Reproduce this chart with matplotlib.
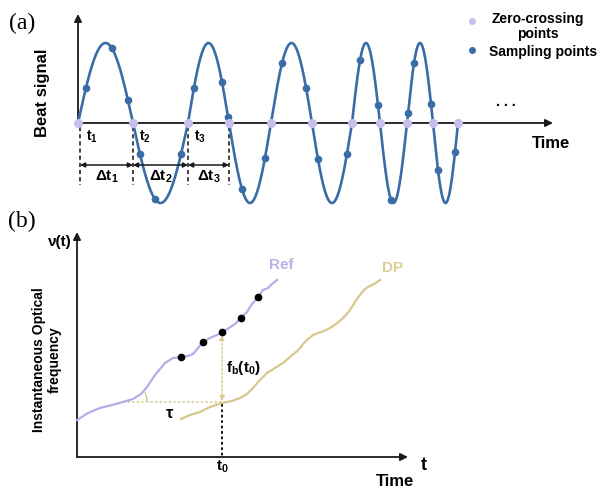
import numpy as np
import matplotlib.pyplot as plt
from matplotlib.patches import Arc

plt.rcParams['font.family'] = ['Liberation Sans', 'DejaVu Sans']
plt.rcParams['mathtext.fontset'] = 'custom'
plt.rcParams['mathtext.rm'] = 'Liberation Sans:bold'
plt.rcParams['mathtext.it'] = 'Liberation Sans:bold'
plt.rcParams['mathtext.bf'] = 'Liberation Sans:bold'

# panel (a): beat signal, zero crossings and sampling instants (time in px units)
zero_cross = [78, 133, 188, 229, 271, 312, 352, 380, 407, 433, 458]
sample_t = [86, 112, 128, 140, 155, 181, 194, 222, 228, 242, 265, 282,
            306, 318, 347, 360, 378, 391, 408, 414, 431, 438, 455]
interval_labels = [r'$t_1$', r'$t_2$', r'$t_3$']
delta_labels = [r'$\Delta t_1$', r'$\Delta t_2$', r'$\Delta t_3$']

# panel (b): instantaneous optical frequency of reference and DP
ref_x = [77, 88, 100, 112, 123, 133, 141, 147, 155, 165, 173, 181, 188, 193, 198,
         203, 210, 217, 222, 229, 235, 241, 247, 252, 258, 263, 268, 272, 277]
ref_y = [420, 413, 408, 405, 402, 399, 394, 387, 375, 363, 358, 357, 356, 354, 348,
         342, 338, 335, 332, 328, 324, 318, 312, 304, 297, 290, 288, 284, 280]
dp_x = [181, 190, 200, 210, 222, 232, 240, 247, 253, 260, 267, 275, 283, 290, 296,
        300, 304, 308, 313, 318, 324, 330, 336, 341, 346, 350, 355, 360, 364, 368, 374, 380]
dp_y = [419, 415, 412, 407, 403, 401, 398, 394, 388, 380, 373, 368, 363, 357, 352,
        348, 343, 339, 335, 333, 331, 328, 324, 320, 315, 310, 302, 295, 290, 287, 284, 280]
ref_dots = [181, 203, 222, 241, 258]
t0 = 222
tau_start = 123

BLUE = '#3a6da6'
LAV = '#c6bfeb'
REF = '#b3aee9'
DP = '#d6c88a'

Y0 = 123   # zero line of panel (a)
AMP = 80


def beat(t):
    t = np.atleast_1d(t).astype(float)
    out = np.zeros_like(t)
    for k in range(len(zero_cross) - 1):
        a, b = zero_cross[k], zero_cross[k + 1]
        m = (t >= a) & (t <= b)
        out[m] = (-1) ** k * np.sin(np.pi * (t[m] - a) / (b - a))
    return Y0 - AMP * out


fig = plt.figure(figsize=(6.01, 4.91), dpi=100)
ax = fig.add_axes([0, 0, 1, 1])
ax.set_xlim(0, 601)
ax.set_ylim(491, 0)
ax.axis('off')

arrow = dict(arrowstyle='-|>', lw=1.3, color='#1a1a1a', mutation_scale=11, shrinkA=0, shrinkB=0)

# ---------- (a) ----------
ax.text(22, 23, '(a)', family='Liberation Serif', fontsize=17, ha='center', va='center')
ax.annotate('', xy=(78, 14), xytext=(78, Y0), arrowprops=arrow)
ax.annotate('', xy=(553, Y0), xytext=(78, Y0), arrowprops=arrow)
ax.text(43, 93, 'Beat signal', rotation=90, fontsize=12, fontweight='bold', ha='center', va='center')
ax.text(551, 144, 'Time', fontsize=12, fontweight='bold', ha='center', va='center')
ax.text(506, 102, '. . .', fontsize=10, fontweight='bold', ha='center', va='center')

tt = np.linspace(zero_cross[0], zero_cross[-1], 1500)
ax.plot(tt, beat(tt), color=BLUE, lw=1.9, zorder=3)
ax.plot(sample_t, beat(sample_t), 'o', color=BLUE, ms=4.5, zorder=4)
ax.plot(zero_cross, [Y0] * len(zero_cross), 'o', color=LAV, ms=5.5, zorder=5)

for i in range(4):
    x = zero_cross[i] + (2 if i == 0 else 0)
    ax.plot([x, x], [127, 185], ls=(0, (2.5, 1.8)), color='#222222', lw=1.2, zorder=2)
for i in range(3):
    a = zero_cross[i] + (2 if i == 0 else 0)
    b = zero_cross[i + 1]
    ax.annotate('', xy=(b, 165), xytext=(a, 165),
                arrowprops=dict(arrowstyle='<|-|>', lw=1.1, color='#1a1a1a', mutation_scale=7,
                                shrinkA=0, shrinkB=0))
    ax.text((a + b) / 2, 177, delta_labels[i], fontsize=11, ha='center', va='center')
    ax.text(a + 6, 137, interval_labels[i], fontsize=10, ha='left', va='center')

# legend
ax.plot([472], [21], 'o', color=LAV, ms=4)
ax.plot([472], [50], 'o', color=BLUE, ms=4)
ax.text(538, 19, 'Zero-crossing', fontsize=10, fontweight='bold', ha='center', va='center')
ax.text(538, 34, 'points', fontsize=10, fontweight='bold', ha='center', va='center')
ax.text(489, 52, 'Sampling points', fontsize=10, fontweight='bold', ha='left', va='center')

# ---------- (b) ----------
ax.text(22, 221, '(b)', family='Liberation Serif', fontsize=17, ha='center', va='center')
ax.annotate('', xy=(77, 232), xytext=(77, 457), arrowprops=arrow)
ax.annotate('', xy=(408, 457), xytext=(77, 457), arrowprops=arrow)
ax.text(72, 242, 'ν(t)', fontsize=11, fontweight='bold', ha='right', va='center')
ax.text(47, 360, 'Instantaneous Optical\nfrequency', rotation=90, fontsize=10, fontweight='bold',
        ha='center', va='center', linespacing=1.1)
ax.text(424, 465, 't', fontsize=13, fontweight='bold', ha='center', va='center')
ax.text(395, 482, 'Time', fontsize=12, fontweight='bold', ha='center', va='center')
ax.text(t0, 467, r'$t_0$', fontsize=11, ha='center', va='center')

ax.plot(ref_x, ref_y, color=REF, lw=1.6, zorder=3)
ax.plot(dp_x, dp_y, color=DP, lw=1.6, zorder=3)
ax.plot(ref_dots, np.interp(ref_dots, ref_x, ref_y), 'o', color='black', ms=4.5, zorder=4)
ax.text(281, 265, 'Ref', fontsize=11, fontweight='bold', color='#b9b3ec', ha='center', va='center')
ax.text(393, 268, 'DP', fontsize=11, fontweight='bold', color='#dccf95', ha='center', va='center')

y_tau = np.interp(tau_start, ref_x, ref_y)
y_dp0 = np.interp(t0, dp_x, dp_y)
y_ref0 = np.interp(t0, ref_x, ref_y)
ax.plot([tau_start, t0], [y_tau, y_tau], ls=(0, (1.5, 1.5)), color=DP, lw=1.1, zorder=2)
ax.annotate('', xy=(t0, y_ref0 + 3), xytext=(t0, y_dp0 - 2),
            arrowprops=dict(arrowstyle='<|-|>', lw=1.0, ls=(0, (1.5, 1.5)), color=DP,
                            mutation_scale=7, shrinkA=0, shrinkB=0))
ax.plot([t0, t0], [y_dp0 + 1, 457], ls=(0, (1.5, 1.5)), color='black', lw=1.3, zorder=2)
ax.add_patch(Arc((tau_start, y_tau), 48, 48, theta1=-24, theta2=0, color=DP, lw=1.0))
ax.text(170, 413, r'$\tau$', fontsize=12, ha='center', va='center')
ax.text(243, 368, r'$f_b(t_0)$', fontsize=11, ha='center', va='center')

fig.savefig('out.png', dpi=100)
